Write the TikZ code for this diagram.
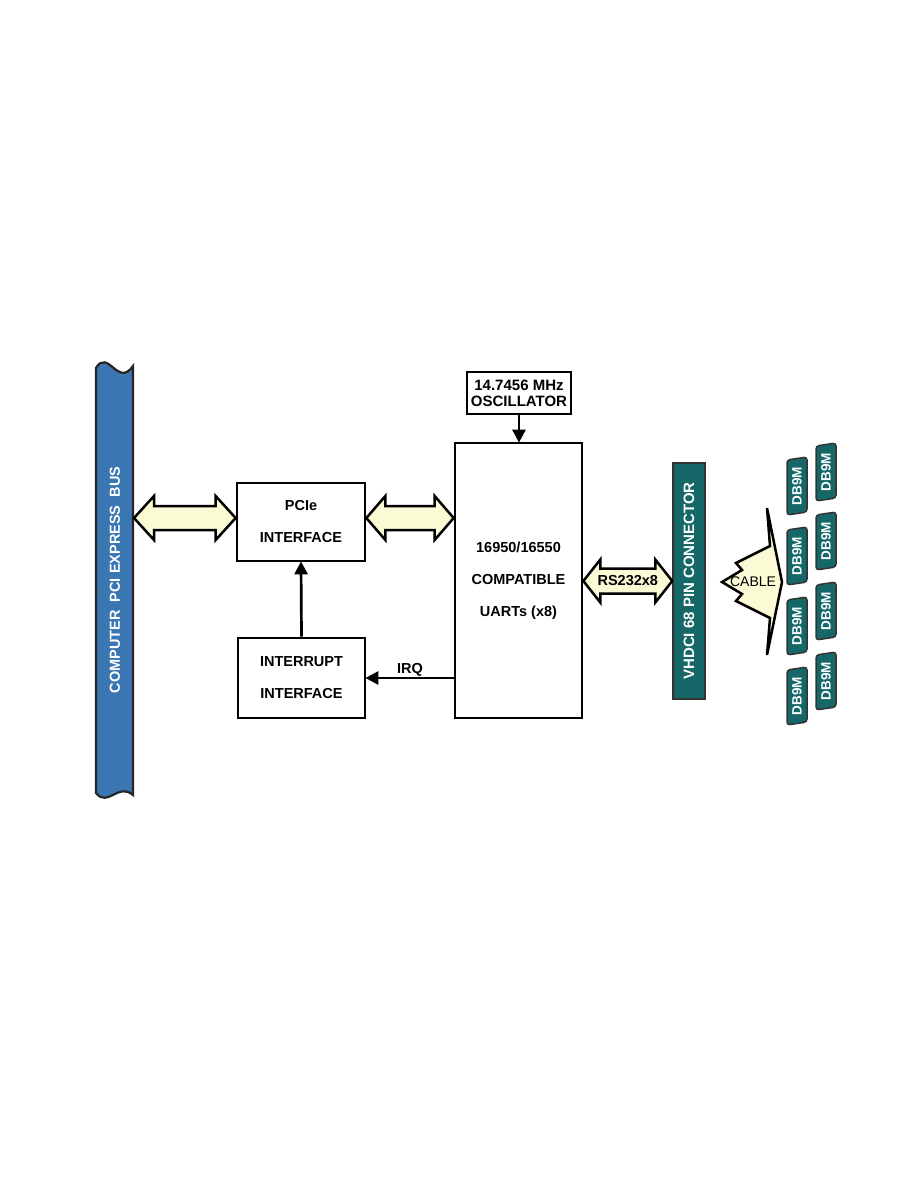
\documentclass[tikz,border=0pt]{standalone}
\usepackage{fontspec}
\setmainfont{Liberation Sans}
\usetikzlibrary{calc,arrows.meta}
\definecolor{busblue}{RGB}{58,118,178}
\definecolor{tealc}{RGB}{22,104,104}
\definecolor{fatfill}{RGB}{250,250,212}
\newcommand\fatarrow[5]{%
  \draw[fatstyle] (#1) -- ($(#1)+(#5,#4)$) -- ($(#1)+(#5,#3)$) -- ($(#2)+(-#5,#3)$) -- ($(#2)+(-#5,#4)$) -- (#2)
   -- ($(#2)+(-#5,-#4)$) -- ($(#2)+(-#5,-#3)$) -- ($(#1)+(#5,-#3)$) -- ($(#1)+(#5,-#4)$) -- cycle;}
\newcommand\dbnine[3]{%
  \draw[dbshape] ($(#2,#3)+(-10,-26)$) -- ($(#2,#3)+(10,-29)$) -- ($(#2,#3)+(10,26)$) -- ($(#2,#3)+(-10,29)$) -- cycle;
  \node[dbtext] (#1) at (#2,#3) {DB9M};}
\begin{document}
\begin{tikzpicture}[x=1pt,y=-1pt,
  blk/.style={draw=black, line width=2.7pt, fill=white, inner sep=0pt, align=center,
    font=\bfseries\fontsize{14.5}{32}\selectfont},
  conn/.style={line width=2.7pt, -{Triangle[length=13pt,width=13pt]}, shorten >=-1pt},
  fatstyle/.style={draw=black, line width=2.5pt, fill=fatfill, line join=miter},
  dbshape/.style={draw=black!80, line width=1.5pt, fill=tealc, rounded corners=3pt},
  dbtext/.style={text=white, rotate=90, font=\bfseries\fontsize{13.5}{15}\selectfont, inner sep=0pt},
  lbl/.style={font=\bfseries\fontsize{14.5}{16}\selectfont, inner sep=0pt}]
\useasboundingbox (0,0) rectangle (918,1188);
% bus
\draw[draw=black!85, line width=2.2pt, fill=busblue]
  (96,368) .. controls (108,348) and (118,388) .. (133,366)
  -- (133,795) .. controls (118,782) and (108,808) .. (96,793) -- cycle;
\node[text=white, rotate=90, font=\bfseries\fontsize{14.5}{16}\selectfont, inner sep=0pt] (bus) at (115,580)
  {COMPUTER\ \ PCI EXPRESS\ \ BUS};
\coordinate (busE) at (134,518);
% blocks
\node[blk, minimum width=128pt, minimum height=78pt] (pcie) at (301,522) {PCIe\\INTERFACE};
\node[blk, minimum width=127pt, minimum height=80pt] (intr) at (301.5,678) {INTERRUPT\\INTERFACE};
\node[blk, minimum width=127pt, minimum height=275pt] (uart) at (518.5,580.5) {16950/16550\\COMPATIBLE\\UARTs (x8)};
\node[blk, minimum width=104pt, minimum height=42pt, font=\bfseries\fontsize{15}{16}\selectfont] (osc) at (519,393)
  {14.7456 MHz\\OSCILLATOR};
\node[draw=black!80, line width=1.5pt, fill=tealc, minimum width=32pt, minimum height=236pt, inner sep=0pt] (vh) at (689,581) {};
\node[text=white, rotate=90, font=\bfseries\fontsize{15}{17}\selectfont, inner sep=0pt] (vhtext) at (vh.center) {VHDCI 68 PIN CONNECTOR};
% connectors
\draw[conn] (intr.north) -- (pcie.south);
\draw[conn] (osc.south) -- (osc.south |- uart.north);
\draw[conn] (uart.west |- intr.east) -- (intr.east);
\node[lbl] (irq) at (410,670) {IRQ};
% fat arrows
\fatarrow{busE}{busE -| pcie.west}{12}{22}{20}
\fatarrow{pcie.east |- busE}{uart.west |- busE}{12}{22}{19}
\fatarrow{uart.east |- vh.west}{vh.west}{12.5}{21.5}{17}
\node[lbl] (rs) at ($(uart.east |- vh.west)!0.5!(vh.west)$) {RS232x8};
% cable
\draw[fatstyle] (767,508) -- (770,546) -- (736,563) -- (742,570) -- (722,582) -- (742,594) -- (736,601)
  -- (770,618) -- (767,655) -- (782,582) -- cycle;
\node[font=\fontsize{14}{16}\selectfont, inner sep=0pt] (cable) at (753,582) {CABLE};
% DB9M connectors
\dbnine{d1}{797}{486}
\dbnine{d2}{797}{556}
\dbnine{d3}{797}{626}
\dbnine{d4}{797}{696}
\dbnine{d5}{826}{472}
\dbnine{d6}{826}{541}
\dbnine{d7}{826}{611}
\dbnine{d8}{826}{681}
\end{tikzpicture}
\end{document}
